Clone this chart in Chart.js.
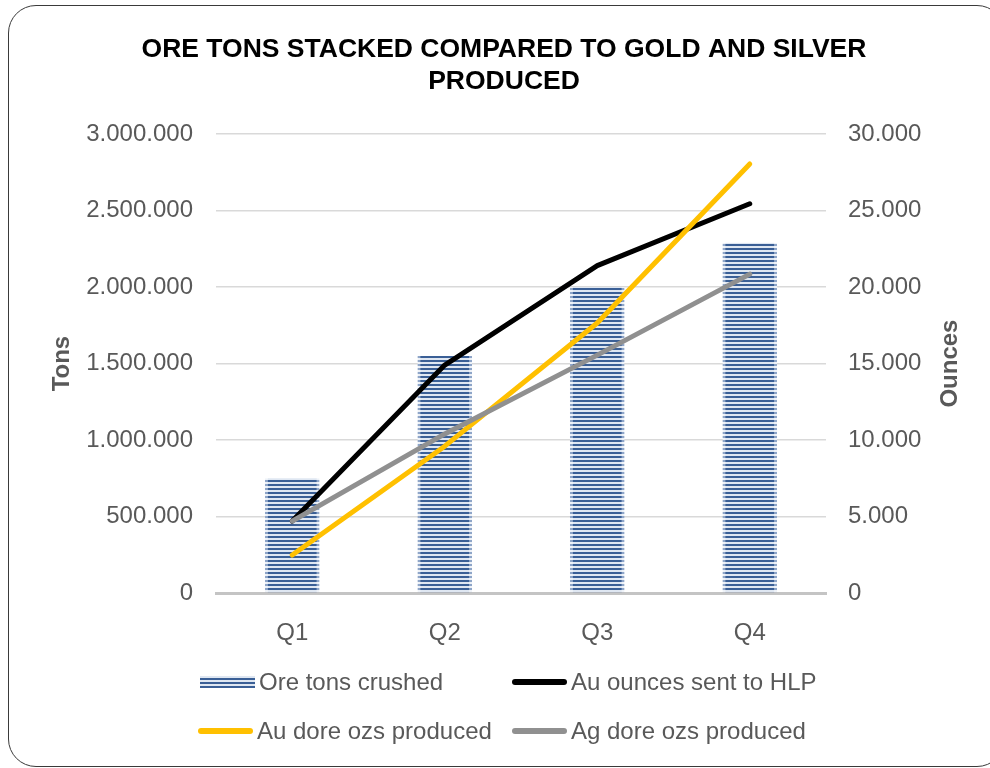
<!DOCTYPE html>
<html>
<head>
<meta charset="utf-8">
<script src="https://cdn.jsdelivr.net/npm/chart.js@4.4.1/dist/chart.umd.min.js"></script>
<style>
  body { margin:0; background:#fff; }
  #wrap { position:relative; width:990px; height:768px; overflow:hidden; }
  #card { position:absolute; left:8px; top:5px; width:995px; height:760px; border:1.5px solid #3a3a3a; border-radius:28px; pointer-events:none; }
  #myChart1 { position:absolute; left:0; top:0; }
  .leg { position:absolute; display:flex; align-items:center; font-family:"Liberation Sans", Arial, Helvetica, sans-serif; font-size:24px; color:#595959; white-space:nowrap; }
  .sw { width:55px; margin-right:4px; }
</style>
</head>
<body>
<div id="wrap">
  <div id="card"></div>
  <canvas id="myChart1" width="990" height="768"></canvas>
  <div id="legend"></div>
</div>
<script>
const __ = (s) => document.querySelector(s);

// data
const quarters = ['Q1', 'Q2', 'Q3', 'Q4'];
const oreTons = [750000, 1550000, 2000000, 2290000];
const auSentHlp = [4700, 14900, 21400, 25450];
const auDore = [2480, 9600, 17650, 28050];
const agDore = [4700, 10400, 15550, 20850];
const tonTicks = [0, 500000, 1000000, 1500000, 2000000, 2500000, 3000000];
const ounceTicks = [0, 5000, 10000, 15000, 20000, 25000, 30000];

const FONT = '"Liberation Sans", Arial, Helvetica, sans-serif';
const GREY_TXT = '#595959';

// striped fill for the bars
function stripes(light, dark){
    const c = document.createElement('canvas');
    c.width = 4; c.height = 4;
    const g = c.getContext('2d');
    g.fillStyle = light;
    g.fillRect(0,0,4,4);
    g.fillStyle = dark;
    g.fillRect(0,0,4,2);
    return g.createPattern(c, 'repeat');
}

const fmt = (v) => Number(v).toLocaleString('de-DE');

// right axis title reads bottom-to-top like the left one
const ouncesTitle = {
    id: 'ouncesTitle',
    afterDraw(chart){
        const a = chart.chartArea;
        const c = chart.ctx;
        c.save();
        c.translate(950, (a.top + a.bottom) / 2);
        c.rotate(-Math.PI / 2);
        c.font = 'bold 24px ' + FONT;
        c.fillStyle = GREY_TXT;
        c.textAlign = 'center';
        c.textBaseline = 'middle';
        c.fillText('Ounces', 0, 0);
        c.restore();
    }
};

var ch1 = new Chart(__('#myChart1'), {
    type: 'bar',
    data: {
        labels: quarters,
        datasets: [{
            type: 'bar',
            label: 'Ore tons crushed',
            data: oreTons,
            backgroundColor: stripes('#dfe7f2', '#3a5f96'),
            borderColor: stripes('#eef2f8', '#8ea5c8'),
            borderWidth: { left: 3, right: 3, top: 0, bottom: 0 },
            borderSkipped: false,
            barThickness: 54,
            yAxisID: 'y',
            order: 10,
        }, {
            type: 'line',
            label: 'Au ounces sent to HLP',
            data: auSentHlp,
            borderColor: '#000000',
            backgroundColor: '#000000',
            yAxisID: 'y2',
            order: 3,
        }, {
            type: 'line',
            label: 'Au dore ozs produced',
            data: auDore,
            borderColor: '#ffc000',
            backgroundColor: '#ffc000',
            yAxisID: 'y2',
            order: 2,
        }, {
            type: 'line',
            label: 'Ag dore ozs produced',
            data: agDore,
            borderColor: '#909090',
            backgroundColor: '#909090',
            yAxisID: 'y2',
            order: 1,
        }],
    },
    options: {
        responsive: false,
        animation: false,
        devicePixelRatio: 1,
        layout: { padding: { left: 18, right: 0, top: 16, bottom: 115 } },
        elements: {
            line: { borderWidth: 5, borderCapStyle: 'round', borderJoinStyle: 'round', tension: 0 },
            point: { radius: 0, hoverRadius: 0 },
        },
        plugins: {
            legend: { display: false },
            tooltip: { enabled: false },
            title: {
                display: true,
                text: ['ORE TONS STACKED COMPARED TO GOLD AND SILVER', 'PRODUCED'],
                color: '#000000',
                font: { family: FONT, size: 26.5, weight: 'bold', lineHeight: 1.21 },
                padding: { top: 18, bottom: 36 },
            },
        },
        scales: {
            x: {
                offset: true,
                grid: { display: false },
                border: { display: true, color: '#c4c4c4', width: 3 },
                ticks: { color: GREY_TXT, font: { family: FONT, size: 24 }, padding: 18 },
                afterFit(scale){ scale.height = 60; },
            },
            y: {
                position: 'left',
                min: 0, max: 3000000,
                afterBuildTicks(scale){ scale.ticks = tonTicks.map(v => ({value: v})); },
                grid: { color: '#d9d9d9', lineWidth: 1.5, drawTicks: false },
                border: { display: false },
                ticks: { color: GREY_TXT, font: { family: FONT, size: 24 }, padding: 23, callback: fmt },
                title: {
                    display: true, text: 'Tons', color: GREY_TXT,
                    font: { family: FONT, size: 24, weight: 'bold' },
                    padding: { top: 30, bottom: 0 },
                },
                afterFit(scale){ scale.width = 198; },
            },
            y2: {
                position: 'right',
                min: 0, max: 30000,
                afterBuildTicks(scale){ scale.ticks = ounceTicks.map(v => ({value: v})); },
                grid: { drawOnChartArea: false, drawTicks: false },
                border: { display: false },
                ticks: { color: GREY_TXT, font: { family: FONT, size: 24 }, padding: 22, callback: fmt },
                afterFit(scale){ scale.width = 164; },
            },
        },
    },
    plugins: [ouncesTitle],
});

// legend laid out as a 2x2 grid like the original
function showLegend(chart){
    const pos = [[200, 682], [512, 682], [198, 731], [512, 731]];
    const box = __('#legend');
    box.innerHTML = '';
    chart.data.datasets.forEach((ds, i) => {
        const item = document.createElement('div');
        item.className = 'leg';
        const sw = document.createElement('div');
        sw.className = 'sw';
        if (ds.type === 'bar') {
            sw.style.height = '12px';
            sw.style.background = 'repeating-linear-gradient(to bottom, #dfe7f2 0 2px, #3a5f96 2px 4px)';
        } else {
            sw.style.height = '6px';
            sw.style.borderRadius = '3px';
            sw.style.background = ds.borderColor;
        }
        const txt = document.createElement('span');
        txt.textContent = ds.label;
        item.appendChild(sw);
        item.appendChild(txt);
        item.style.left = pos[i][0] + 'px';
        item.style.top = (pos[i][1] - 14) + 'px';
        box.appendChild(item);
    });
}
showLegend(ch1);
</script>
</body>
</html>
